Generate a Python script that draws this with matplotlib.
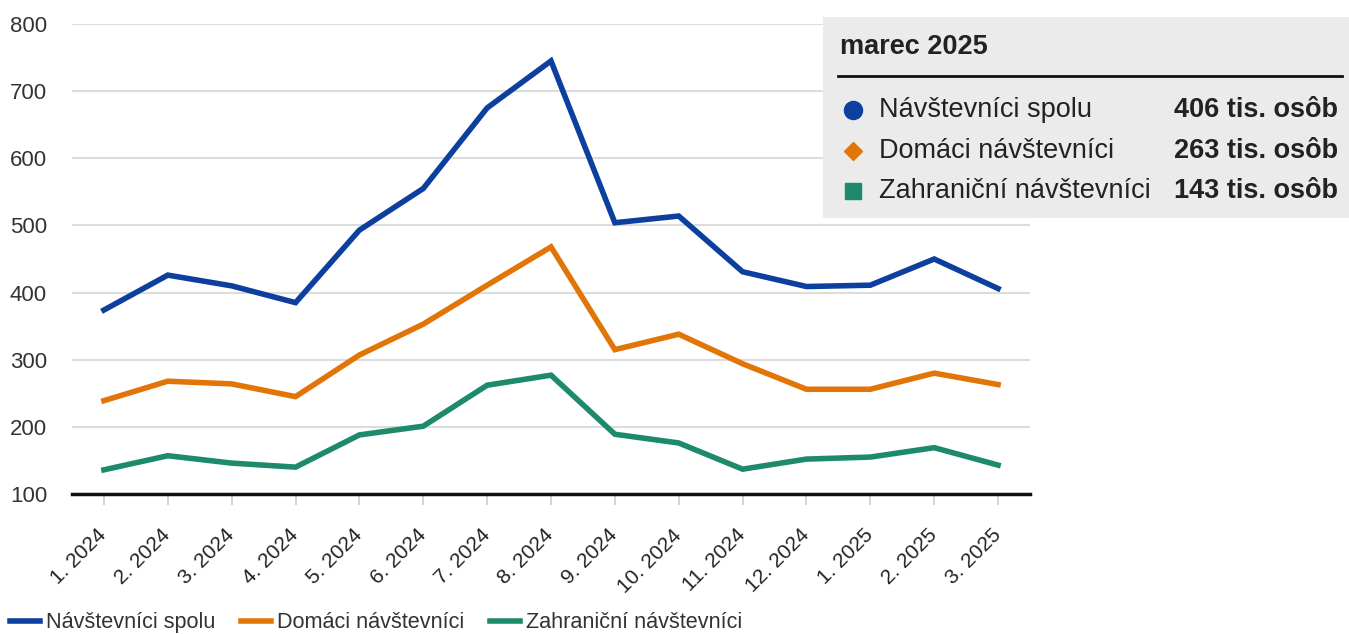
import matplotlib.pyplot as plt
import matplotlib.transforms as mtransforms
from matplotlib.patches import Rectangle
from matplotlib.lines import Line2D

plt.rcParams['font.family'] = ['Liberation Sans', 'DejaVu Sans']

months = ['1. 2024', '2. 2024', '3. 2024', '4. 2024', '5. 2024', '6. 2024', '7. 2024',
          '8. 2024', '9. 2024', '10. 2024', '11. 2024', '12. 2024', '1. 2025', '2. 2025', '3. 2025']
spolu = [374, 426, 410, 385, 493, 555, 675, 745, 504, 514, 431, 409, 411, 450, 406]
domaci = [239, 268, 264, 245, 307, 353, 411, 468, 315, 338, 294, 256, 256, 280, 263]
zahranicni = [136, 157, 146, 140, 188, 201, 262, 277, 189, 176, 137, 152, 155, 169, 143]

names = ['Návštevníci spolu', 'Domáci návštevníci', 'Zahraniční návštevníci']
colors = ['#0d3f9f', '#e27508', '#1e8a6c']
markers = ['o', 'D', 's']

fig = plt.figure(figsize=(13.49, 6.34), dpi=100)
ax = fig.add_axes([72 / 1349, 1 - 494 / 634, (1030 - 72) / 1349, (494 - 24) / 634])

x = list(range(len(months)))
for ys, c in zip([spolu, domaci, zahranicni], colors):
    ax.plot(x, ys, color=c, lw=4, solid_joinstyle='miter', zorder=3)

ax.set_xlim(-0.5, len(months) - 0.5)
ax.set_ylim(100, 800)
ax.set_yticks(range(100, 801, 100))
ax.yaxis.grid(True, color='#dcdcdc', lw=1.5)
ax.set_axisbelow(True)
for s in ['top', 'right', 'left']:
    ax.spines[s].set_visible(False)
ax.spines['bottom'].set_color('#111111')
ax.spines['bottom'].set_linewidth(2.5)
ax.spines['bottom'].set_zorder(4)
ax.tick_params(axis='y', length=0, labelsize=16, labelcolor='#333333', pad=18)
ax.set_xticks(x)
ax.set_xticklabels(months, rotation=45, ha='right', rotation_mode='anchor',
                   fontsize=15, color='#222222')
ax.tick_params(axis='x', length=8, width=1.2, color='#cccccc', pad=6)
# posun popiskov trochu dole a dolava
offset = mtransforms.ScaledTranslation(-7 / 100, -12 / 100, fig.dpi_scale_trans)
for lab in ax.get_xticklabels():
    lab.set_transform(lab.get_transform() + offset)

# info box
fig.patches.append(Rectangle((823 / 1349, 1 - 218 / 634), 526 / 1349, 201 / 634,
                             transform=fig.transFigure, facecolor='#ebebeb',
                             edgecolor='none', zorder=5))
fig.text(840 / 1349, 1 - 47 / 634, 'marec 2025', fontsize=19.5, fontweight='bold',
         color='#222222', va='center', zorder=6)
fig.add_artist(Line2D([838 / 1349, 1342 / 1349], [1 - 76 / 634, 1 - 76 / 634],
                      color='#111111', lw=2, zorder=6))
last = [spolu[-1], domaci[-1], zahranicni[-1]]
for i, (n, c, m, v) in enumerate(zip(names, colors, markers, last)):
    yy = 1 - (110 + 40.5 * i) / 634
    ms = 13 if m == 'o' else (9 if m == 'D' else 12)
    fig.add_artist(Line2D([853 / 1349], [yy], marker=m, color=c, markersize=ms,
                          linestyle='none', zorder=6))
    fig.text(879 / 1349, yy, n, fontsize=19.5, color='#222222', va='center', zorder=6)
    fig.text(1338 / 1349, yy, f'{v} tis. osôb', fontsize=19.5, fontweight='bold',
             color='#222222', va='center', ha='right', zorder=6)

# bottom legend
handles = [Line2D([0], [0], color=c, lw=4) for c in colors]
fig.legend(handles, names, loc='center left', bbox_to_anchor=(10 / 1349, 0.018),
           ncol=3, frameon=False, fontsize=15.6, handlelength=1.4, handletextpad=0.25,
           columnspacing=1.2, labelcolor='#333333', borderpad=0, borderaxespad=0)

fig.savefig('out.png', dpi=100)
